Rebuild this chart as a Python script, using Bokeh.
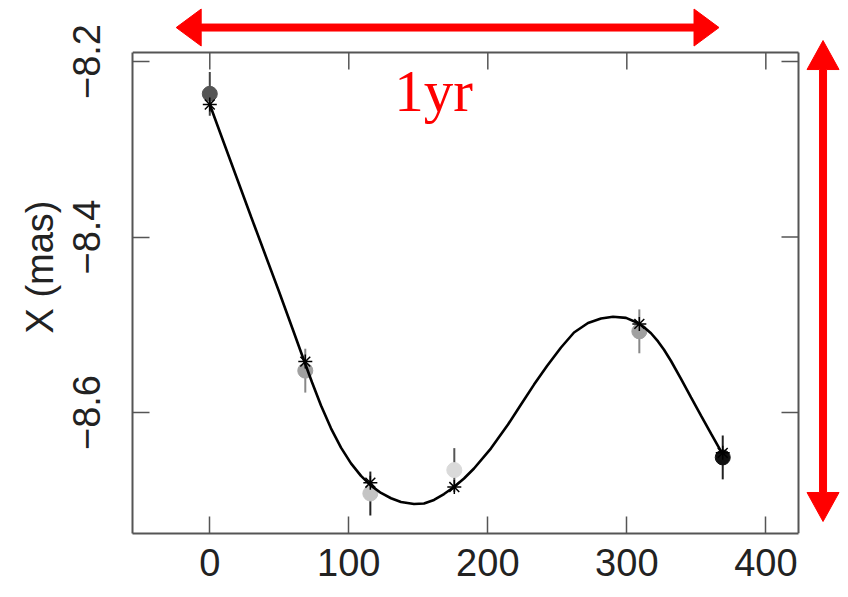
from bokeh.plotting import figure
from bokeh.models import Range1d, FixedTicker, Label
from bokeh.embed import file_html
from bokeh.resources import INLINE

# ---- data ----
epochs = [0.0, 68.7, 115.5, 175.9, 309.0, 369.0]                 # days
x_obs = [-8.2368, -8.5523, -8.6923, -8.6656, -8.5075, -8.6512]    # mas
x_err = [0.025, 0.025, 0.025, 0.025, 0.025, 0.025]
x_model = [-8.249, -8.542, -8.680, -8.685, -8.499, -8.646]
obs_colors = ["#555555", "#a0a0a0", "#c4c4c4", "#dadada", "#a0a0a0", "#111111"]
bar_colors = ["#444444", "#888888", "#222222", "#555555", "#888888", "#222222"]

curve_t = [0.0, 9.50, 19.57, 29.64, 39.71, 49.78, 59.86, 67.77, 73.53, 80.0,
           87.19, 94.39, 101.58, 108.78, 115.97, 123.17, 130.36, 137.55, 146.91,
           154.10, 161.29, 168.49, 175.68, 182.88, 190.07, 202.30, 214.53, 223.88,
           233.24, 242.59, 252.66, 262.01, 272.09, 281.44, 290.07, 299.42, 308.06,
           312.37, 317.41, 322.45, 326.76, 331.80, 338.99, 346.19, 353.38, 360.58,
           368.49]
curve_x = [-8.2490, -8.2900, -8.3333, -8.3766, -8.4194, -8.4621, -8.5060, -8.5407,
           -8.5656, -8.5920, -8.6180, -8.6400, -8.6580, -8.6722, -8.6833, -8.6917,
           -8.6977, -8.7020, -8.7043, -8.7037, -8.6997, -8.6929, -8.6849, -8.6752,
           -8.6638, -8.6408, -8.6137, -8.5908, -8.5682, -8.5471, -8.5259, -8.5088,
           -8.4980, -8.4929, -8.4909, -8.4921, -8.4980, -8.5028, -8.5097, -8.5190,
           -8.5285, -8.5413, -8.5616, -8.5827, -8.6035, -8.6240, -8.6463]

x_ticks = [0, 100, 200, 300, 400]
y_ticks = [-8.6, -8.4, -8.2]
y_tick_labels = {-8.6: "\u22128.6", -8.4: "\u22128.4", -8.2: "\u22128.2"}

# annotations: "1 yr" arrow (horizontal) and range arrow (vertical), tips in data units
yr_arrow = dict(x0=-24.17, x1=366.33, y=-8.16125)
rng_arrow = dict(x=441.15, y0=-8.17607, y1=-8.72422)
yr_label = dict(x=161.0, y=-8.2331, text="1yr")

# ---- layout ----
W, H = 840, 589
BOX_X = (-55.6, 423.5)        # data limits of the drawn plot box
BOX_Y = (-8.7379, -8.1897)
BOX_PX = dict(left=132, right=798, top=52, bottom=533)
TICK_LEN = 17
FONT = "Liberation Sans"
FRAME = "#555555"

ppx = (BOX_PX["right"] - BOX_PX["left"]) / (BOX_X[1] - BOX_X[0])   # px per day
ppy = (BOX_PX["bottom"] - BOX_PX["top"]) / (BOX_Y[1] - BOX_Y[0])   # px per mas
# the frame reaches the top and right canvas edges so the red arrows can be drawn there
x_end = BOX_X[1] + (W - BOX_PX["right"]) / ppx
y_end = BOX_Y[1] + BOX_PX["top"] / ppy

p = figure(width=W, height=H, output_backend="svg", toolbar_location=None,
           x_range=Range1d(BOX_X[0], x_end), y_range=Range1d(BOX_Y[0], y_end),
           min_border_left=BOX_PX["left"], min_border_right=0,
           min_border_top=0, min_border_bottom=H - BOX_PX["bottom"],
           background_fill_color="white", border_fill_color="white")
p.xgrid.visible = False
p.ygrid.visible = False
p.outline_line_color = None

def style_axis(ax, ticks, bounds):
    ax.ticker = FixedTicker(ticks=ticks)
    ax.bounds = bounds
    ax.major_tick_in = TICK_LEN
    ax.major_tick_out = 0
    ax.minor_tick_in = 0
    ax.minor_tick_out = 0
    ax.major_tick_line_color = FRAME
    ax.major_tick_line_width = 1.5
    ax.axis_line_color = FRAME
    ax.axis_line_width = 2
    ax.major_label_text_font = FONT
    ax.major_label_text_color = "#222222"
    ax.major_label_text_font_size = "38px"

xa = p.xaxis[0]
style_axis(xa, x_ticks, BOX_X)
xa.major_label_standoff = 15

ya = p.yaxis[0]
style_axis(ya, y_ticks, BOX_Y)
ya.major_label_overrides = y_tick_labels
ya.major_label_orientation = "vertical"
ya.major_label_standoff = 32
ya.axis_label = "X (mas)"
ya.axis_label_text_font = FONT
ya.axis_label_text_font_size = "38px"
ya.axis_label_text_font_style = "normal"
ya.axis_label_text_color = "#222222"
ya.axis_label_standoff = 10

# top and right edges of the plot box, with inward ticks
p.segment(x0=[BOX_X[0], BOX_X[1]], y0=[BOX_Y[1], BOX_Y[0]],
          x1=[BOX_X[1], BOX_X[1]], y1=[BOX_Y[1], BOX_Y[1]],
          line_color=FRAME, line_width=2)
p.segment(x0=x_ticks, y0=[BOX_Y[1]] * len(x_ticks),
          x1=x_ticks, y1=[BOX_Y[1] - TICK_LEN / ppy] * len(x_ticks),
          line_color=FRAME, line_width=1.5)
p.segment(x0=[BOX_X[1]] * len(y_ticks), y0=y_ticks,
          x1=[BOX_X[1] - TICK_LEN / ppx] * len(y_ticks), y1=y_ticks,
          line_color=FRAME, line_width=1.5)

# error bars
p.segment(x0=epochs, y0=[v - e for v, e in zip(x_obs, x_err)],
          x1=epochs, y1=[v + e for v, e in zip(x_obs, x_err)],
          line_color=bar_colors, line_width=2)
# observations
p.scatter(x=epochs, y=x_obs, size=15, fill_color=obs_colors, line_color=obs_colors)
# model curve
p.line(x=curve_t, y=curve_x, line_color="black", line_width=2.6)
# model positions
p.scatter(x=epochs, y=x_model, marker="asterisk", size=14, line_color="black",
          line_width=1.5)

# ---- red double arrows ----
HEAD_LEN, HEAD_HALF, SHAFT_HALF = 25, 18.5, 3.5

def h_arrow(x0, x1, y):
    hl = HEAD_LEN / ppx
    hh = HEAD_HALF / ppy
    sh = SHAFT_HALF / ppy
    xs = [x0, x0 + hl, x0 + hl, x1 - hl, x1 - hl, x1, x1 - hl, x1 - hl, x0 + hl, x0 + hl]
    ys = [y, y + hh, y + sh, y + sh, y + hh, y, y - hh, y - sh, y - sh, y - hh]
    return xs, ys

def v_arrow(x, y0, y1):
    hl = (HEAD_LEN + 4) / ppy
    hw = (HEAD_HALF - 2.5) / ppx
    sw = SHAFT_HALF / ppx
    ys = [y0, y0 - hl, y0 - hl, y1 + hl, y1 + hl, y1, y1 + hl, y1 + hl, y0 - hl, y0 - hl]
    xs = [x, x + hw, x + sw, x + sw, x + hw, x, x - hw, x - sw, x - sw, x - hw]
    return xs, ys

hx, hy = h_arrow(yr_arrow["x0"], yr_arrow["x1"], yr_arrow["y"])
vx, vy = v_arrow(rng_arrow["x"], rng_arrow["y0"], rng_arrow["y1"])
p.patches(xs=[hx, vx], ys=[hy, vy], fill_color="red", line_color="red", line_width=1)

p.add_layout(Label(x=yr_label["x"], y=yr_label["y"], text=yr_label["text"],
                   text_font="Liberation Serif", text_font_size="59px",
                   text_color="red", text_align="center",
                   text_baseline="alphabetic"))

open("out.html", "w").write(file_html(p, INLINE))
